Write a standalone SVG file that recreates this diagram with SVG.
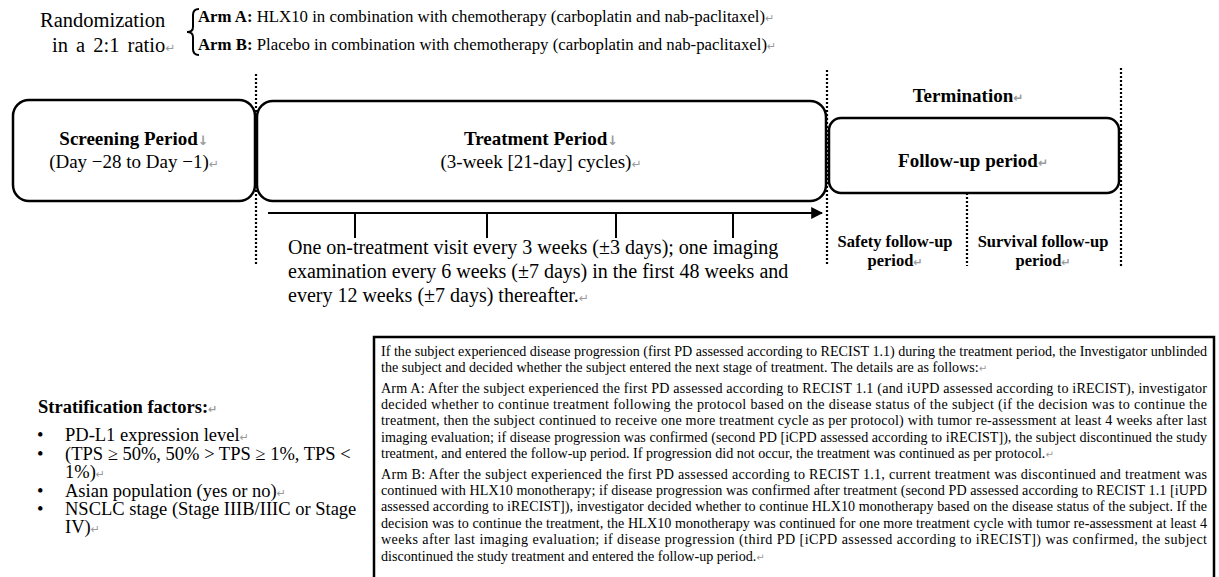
<svg xmlns="http://www.w3.org/2000/svg" width="1219" height="577" viewBox="0 0 1219 577">
<style>
.t{font-family:"Liberation Serif","Times New Roman",serif;fill:#000}
.b{font-weight:bold}
.m{fill:#9a9a9a;font-family:"DejaVu Sans",sans-serif}
.box{fill:#fff;stroke:#000;stroke-width:2.5}
.dot{stroke:#000;stroke-width:2.2;stroke-dasharray:2 2;fill:none}
.ln{stroke:#000;stroke-width:2;fill:none}
</style>
<defs>
<marker id="ah" viewBox="0 0 10 10" refX="9" refY="5" markerWidth="6" markerHeight="6" orient="auto" markerUnits="strokeWidth">
<path d="M0,0 L10,5 L0,10 z" fill="#000"/>
</marker>
</defs>
<rect width="1219" height="577" fill="#fff"/>

<g id="randomization">
<text class="t" font-size="20.5" x="40" y="27">Randomization</text>
<text class="t" font-size="20.5" x="52" y="52" word-spacing="3">in a 2:1 ratio<tspan class="m" font-size="12">↵</tspan></text>
<path class="ln" stroke-width="1.6" d="M199,9 Q193,9 193,15 L193,27 Q193,32 187,32 Q193,32 193,37 L193,49 Q193,55 199,55"/>
<text class="t" font-size="16.8" x="198" y="22"><tspan class="b">Arm A:</tspan> HLX10 in combination with chemotherapy (carboplatin and nab-paclitaxel)<tspan class="m" font-size="11">↵</tspan></text>
<text class="t" font-size="16.8" x="198" y="50"><tspan class="b">Arm B:</tspan> Placebo in combination with chemotherapy (carboplatin and nab-paclitaxel)<tspan class="m" font-size="11">↵</tspan></text>
</g>

<g id="connectors">
<line class="dot" x1="256" y1="74" x2="256" y2="264"/>
<line class="dot" x1="827" y1="70" x2="827" y2="264"/>
<line class="dot" x1="1121" y1="68" x2="1121" y2="268"/>
<line class="dot" x1="967" y1="193" x2="967" y2="266"/>
<line class="ln" x1="268" y1="213" x2="822" y2="213" marker-end="url(#ah)"/>
<line class="ln" x1="355" y1="213" x2="355" y2="238"/>
<line class="ln" x1="487" y1="213" x2="487" y2="238"/>
<line class="ln" x1="616" y1="213" x2="616" y2="238"/>
<line class="ln" x1="733" y1="213" x2="733" y2="238"/>
</g>

<g id="screening">
<rect class="box" x="13" y="100" width="242" height="101" rx="16"/>
<text class="t b" font-size="19" x="134" y="145" text-anchor="middle">Screening Period<tspan class="m" font-size="13">↓</tspan></text>
<text class="t" font-size="19" x="134" y="168" text-anchor="middle">(Day −28 to Day −1)<tspan class="m" font-size="12">↵</tspan></text>
</g>

<g id="treatment">
<rect class="box" x="257" y="101" width="569" height="100" rx="16"/>
<text class="t b" font-size="19" x="541" y="145" text-anchor="middle">Treatment Period<tspan class="m" font-size="13">↓</tspan></text>
<text class="t" font-size="19" x="541" y="168" text-anchor="middle">(3-week [21-day] cycles)<tspan class="m" font-size="12">↵</tspan></text>
</g>

<g id="termination">
<text class="t b" font-size="19" x="968" y="102" text-anchor="middle">Termination<tspan class="m" font-size="12">↵</tspan></text>
</g>

<g id="followup">
<rect class="box" x="829" y="118" width="290" height="75" rx="12"/>
<text class="t b" font-size="19" x="973" y="167" text-anchor="middle">Follow-up  period<tspan class="m" font-size="12">↵</tspan></text>
</g>

<g id="visits">
<text class="t" font-size="20" x="288" y="254">One on-treatment visit every 3 weeks (±3 days); one imaging</text>
<text class="t" font-size="20" x="288" y="278">examination every 6 weeks (±7 days) in the first 48 weeks and</text>
<text class="t" font-size="20" x="288" y="302">every 12 weeks (±7 days) thereafter.<tspan class="m" font-size="12">↵</tspan></text>
</g>

<g id="safety">
<text class="t b" font-size="16.5" x="895" y="247" text-anchor="middle">Safety follow-up</text>
<text class="t b" font-size="16.5" x="895" y="266" text-anchor="middle">period<tspan class="m" font-size="11">↵</tspan></text>
</g>

<g id="survival">
<text class="t b" font-size="16.5" x="1043" y="247" text-anchor="middle">Survival follow-up</text>
<text class="t b" font-size="16.5" x="1043" y="266" text-anchor="middle">period<tspan class="m" font-size="11">↵</tspan></text>
</g>

<g id="stratification">
<text class="t b" font-size="18.5" x="38" y="413">Stratification factors:<tspan class="m" font-size="11">↵</tspan></text>
<g class="t" font-size="18.5">
<text x="37" y="441">•</text><text x="65" y="441">PD-L1  expression level<tspan class="m" font-size="11">↵</tspan></text>
<text x="37" y="460">•</text><text x="65" y="460">(TPS ≥ 50%, 50% &gt; TPS ≥ 1%, TPS &lt;</text>
<text x="65" y="478">1%)<tspan class="m" font-size="11">↵</tspan></text>
<text x="37" y="497">•</text><text x="65" y="497">Asian population (yes or no)<tspan class="m" font-size="11">↵</tspan></text>
<text x="37" y="515">•</text><text x="65" y="515">NSCLC stage  (Stage IIIB/IIIC or Stage</text>
<text x="65" y="533">IV)<tspan class="m" font-size="11">↵</tspan></text>
</g>
</g>

<g id="pd-rules">
<rect x="374" y="337" width="840" height="250" fill="#fff" stroke="#000" stroke-width="2.5"/>
<g class="t" font-size="14.1">
<text x="381" y="356" textLength="826" lengthAdjust="spacing">If the subject experienced disease progression (first PD assessed according to RECIST 1.1) during the treatment period, the Investigator unblinded</text>
<text x="381" y="372">the subject and decided whether the subject entered the next stage of treatment. The details are as follows:<tspan class="m" font-size="10">↵</tspan></text>
<text x="381" y="393" textLength="826" lengthAdjust="spacing">Arm A: After the subject experienced the first PD assessed according to RECIST 1.1 (and iUPD assessed according to iRECIST), investigator</text>
<text x="381" y="409" textLength="826" lengthAdjust="spacing">decided whether to continue treatment following the protocol based on the disease status of the subject (if the decision was to continue the</text>
<text x="381" y="425" textLength="826" lengthAdjust="spacing">treatment, then the subject continued to receive one more treatment cycle as per protocol) with tumor re-assessment at least 4 weeks after last</text>
<text x="381" y="442" textLength="826" lengthAdjust="spacing">imaging evaluation; if disease progression was confirmed (second PD [iCPD assessed according to iRECIST]), the subject discontinued the study</text>
<text x="381" y="458">treatment, and entered the follow-up period. If progression did not occur, the treatment was continued as per protocol.<tspan class="m" font-size="10">↵</tspan></text>
<text x="381" y="479" textLength="826" lengthAdjust="spacing">Arm B: After the subject experienced the first PD assessed according to RECIST 1.1, current treatment was discontinued and treatment was</text>
<text x="381" y="495" textLength="826" lengthAdjust="spacing">continued with HLX10 monotherapy; if disease progression was confirmed after treatment (second PD assessed according to RECIST 1.1 [iUPD</text>
<text x="381" y="511" textLength="826" lengthAdjust="spacing">assessed according to iRECIST]), investigator decided whether to continue HLX10 monotherapy based on the disease status of the subject. If the</text>
<text x="381" y="528" textLength="826" lengthAdjust="spacing">decision was to continue the treatment, the HLX10 monotherapy was continued for one more treatment cycle with tumor re-assessment at least 4</text>
<text x="381" y="544" textLength="826" lengthAdjust="spacing">weeks after last imaging evaluation; if disease progression (third PD [iCPD assessed according to iRECIST]) was confirmed, the subject</text>
<text x="381" y="561">discontinued the study treatment and entered the follow-up period.<tspan class="m" font-size="10">↵</tspan></text>
</g>
</g>
</svg>
